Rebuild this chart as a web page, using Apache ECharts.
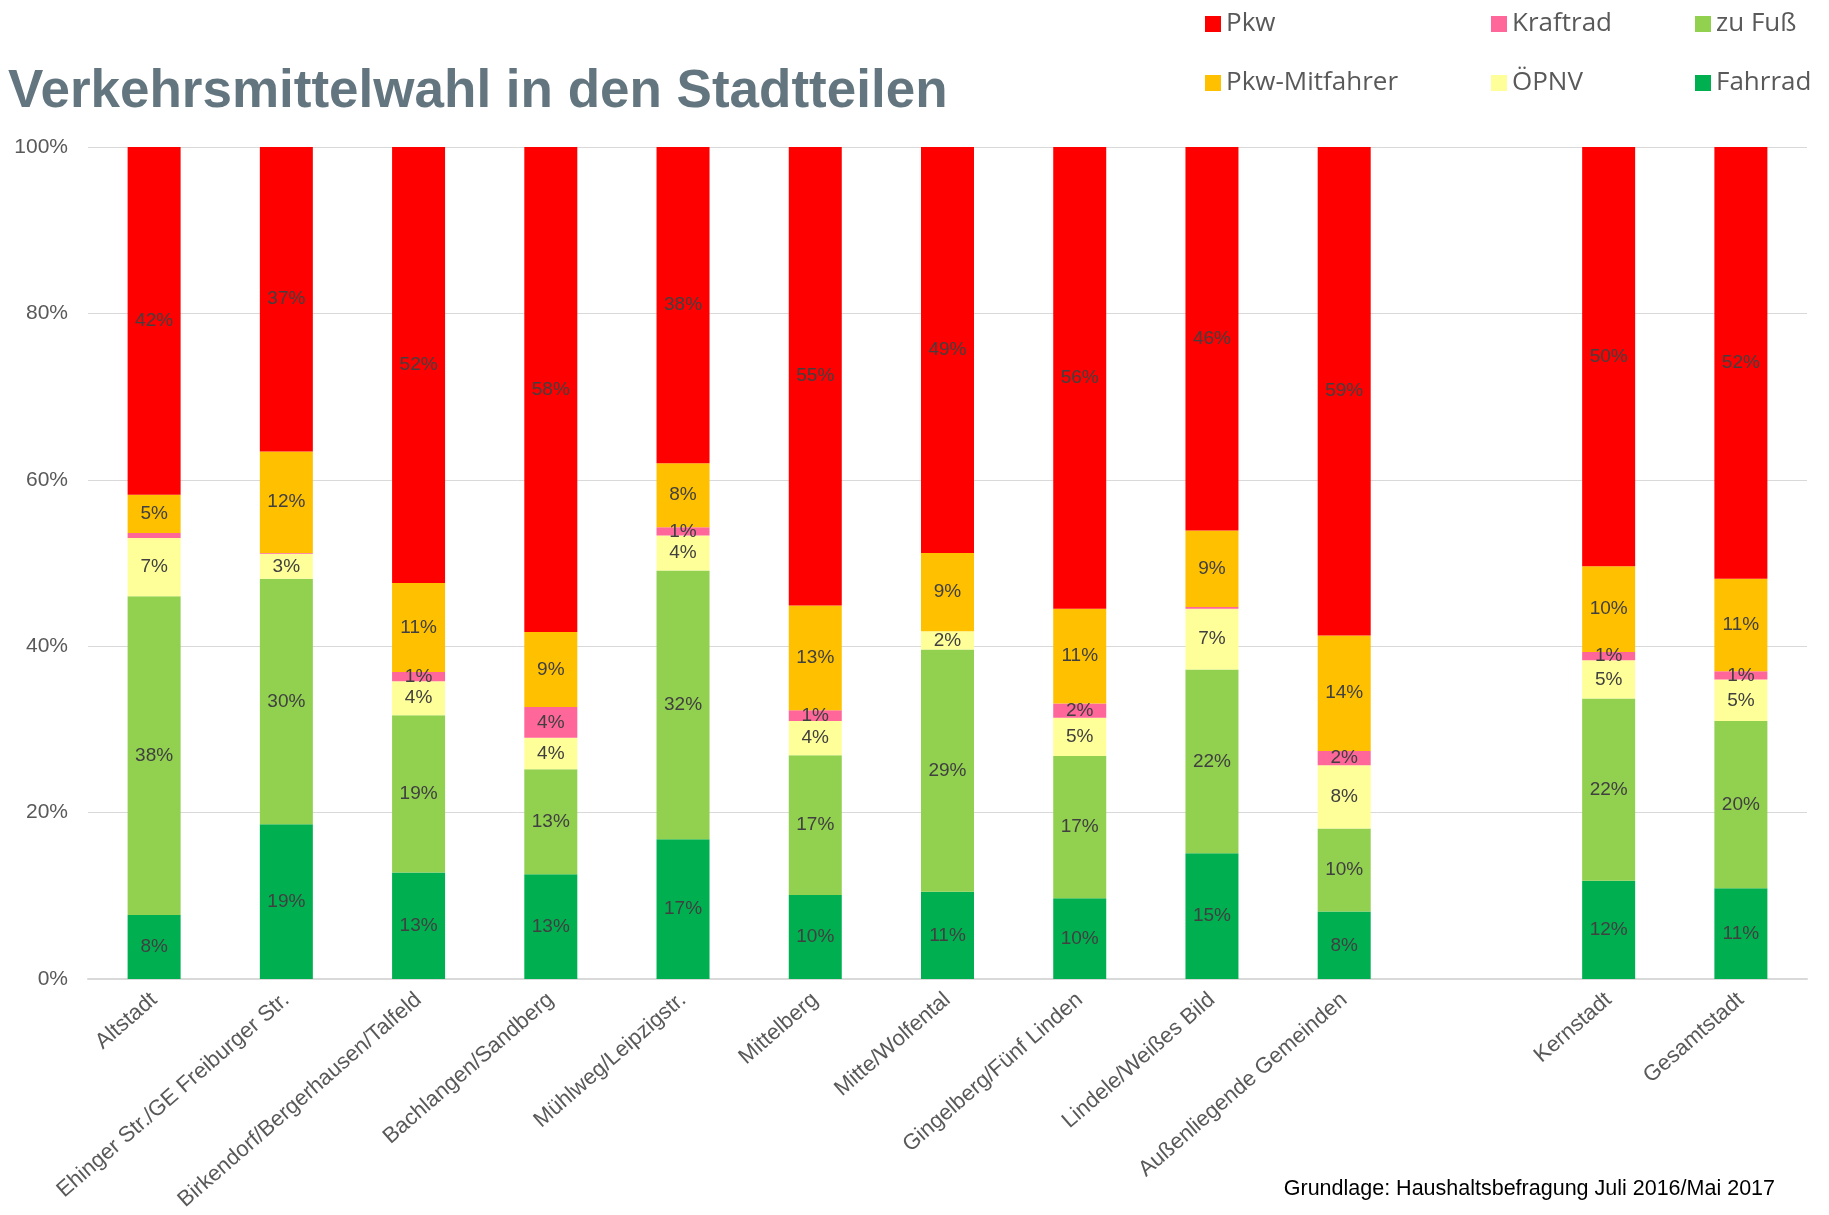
<!DOCTYPE html>
<html>
<head>
<meta charset="utf-8">
<title>Verkehrsmittelwahl</title>
<script src="https://cdn.jsdelivr.net/npm/echarts@6/dist/echarts.min.js"></script>
<style>html,body{margin:0;padding:0;background:#fff}#main{width:1829px;height:1215px}</style>
</head>
<body>
<div id="main"></div>
<script>
// Kategorien (leere Kategorie = Lücke vor Kernstadt)
var categories = ['Altstadt', 'Ehinger Str./GE Freiburger Str.', 'Birkendorf/Bergerhausen/Talfeld', 'Bachlangen/Sandberg',
    'Mühlweg/Leipzigstr.', 'Mittelberg', 'Mitte/Wolfental', 'Gingelberg/Fünf Linden', 'Lindele/Weißes Bild',
    'Außenliegende Gemeinden', '', 'Kernstadt', 'Gesamtstadt'];
var yTicks = [0, 20, 40, 60, 80, 100];

// Anteile in %, von unten nach oben gestapelt
var fahrrad     = [7.7, 18.6, 12.8, 12.6, 16.8, 10.1, 10.5, 9.7, 15.1, 8.1, '-', 11.8, 10.9];
var zuFuss      = [38.3, 29.5, 18.9, 12.6, 32.3, 16.8, 29.1, 17.1, 22.1, 10.0, '-', 21.9, 20.1];
var oepnv       = [7.0, 3.0, 4.1, 3.8, 4.2, 4.1, 2.2, 4.6, 7.3, 7.6, '-', 4.6, 5.0];
var kraftrad    = [0.6, 0.1, 1.1, 3.7, 1.0, 1.3, 0, 1.7, 0.2, 1.7, '-', 1.0, 1.0];
var mitfahrer   = [4.6, 12.2, 10.7, 9.0, 7.7, 12.6, 9.4, 11.4, 9.2, 13.9, '-', 10.3, 11.1];
var pkw         = [41.8, 36.6, 52.4, 58.3, 38.0, 55.1, 48.8, 55.5, 46.1, 58.7, '-', 50.4, 51.9];

var myChart = echarts.init(document.getElementById('main'));

function mkSeries(name, data, color) {
    return {
        name: name,
        type: 'bar',
        stack: 'all',
        data: data,
        barWidth: 53,
        itemStyle: {color: color},
        label: {
            show: true,
            position: 'inside',
            color: '#404040',
            fontFamily: 'Liberation Sans',
            fontSize: 19,
            formatter: function (p) {
                return (typeof p.value === 'number' && p.value >= 0.8) ? Math.round(p.value) + '%' : '';
            }
        }
    };
}

var legendText = {color: '#595959', fontFamily: 'Open Sans', fontSize: 26, lineHeight: 26};

var option = {
    animation: false,
    title: {
        text: 'Verkehrsmittelwahl in den Stadtteilen',
        left: 3,
        top: 61,
        textStyle: {color: '#637680', fontFamily: 'Liberation Sans', fontWeight: 'bold', fontSize: 53}
    },
    legend: [
        {left: 1200, top: 6, orient: 'vertical', itemWidth: 16, itemHeight: 16, itemGap: 33, icon: 'rect',
            textStyle: legendText, data: ['Pkw', 'Pkw-Mitfahrer']},
        {left: 1486, top: 6, orient: 'vertical', itemWidth: 16, itemHeight: 16, itemGap: 33, icon: 'rect',
            textStyle: legendText, data: ['Kraftrad', 'ÖPNV']},
        {left: 1690, top: 6, orient: 'vertical', itemWidth: 16, itemHeight: 16, itemGap: 33, icon: 'rect',
            textStyle: legendText, data: ['zu Fuß', 'Fahrrad']}
    ],
    grid: {left: 88, right: 22, top: 147, bottom: 236},
    xAxis: {
        type: 'category',
        data: categories,
        axisTick: {show: false},
        axisLine: {lineStyle: {color: '#d9d9d9', width: 2}},
        axisLabel: {interval: 0, rotate: 41, margin: 18, color: '#595959', fontFamily: 'Liberation Sans', fontSize: 22}
    },
    yAxis: {
        type: 'value',
        min: yTicks[0],
        max: yTicks[yTicks.length - 1],
        interval: yTicks[1] - yTicks[0],
        axisLabel: {color: '#595959', fontFamily: 'Liberation Sans', fontSize: 21, margin: 20, formatter: '{value}%'},
        splitLine: {lineStyle: {color: '#d9d9d9', width: 1}}
    },
    series: [
        mkSeries('Fahrrad', fahrrad, '#00b050'),
        mkSeries('zu Fuß', zuFuss, '#92d050'),
        mkSeries('ÖPNV', oepnv, '#ffff99'),
        mkSeries('Kraftrad', kraftrad, '#ff6699'),
        mkSeries('Pkw-Mitfahrer', mitfahrer, '#ffc000'),
        mkSeries('Pkw', pkw, '#ff0000')
    ],
    graphic: [{
        type: 'text',
        right: 54,
        top: 1178,
        style: {text: 'Grundlage: Haushaltsbefragung Juli 2016/Mai 2017', fill: '#000', font: '21.5px "Liberation Sans"'}
    }]
};

myChart.setOption(option);
</script>
</body>
</html>
